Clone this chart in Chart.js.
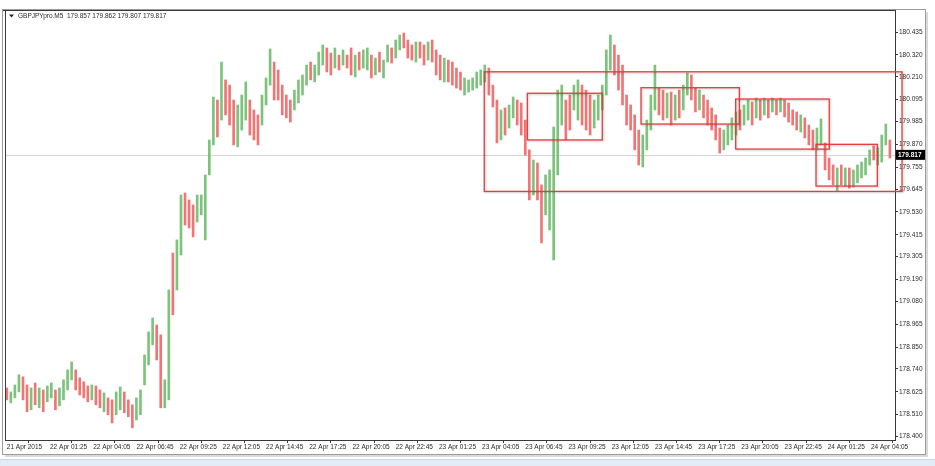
<!DOCTYPE html>
<html>
<head>
<meta charset="utf-8">
<title>GBPJPYpro M5</title>
<script src="https://cdn.jsdelivr.net/npm/chart.js@4.4.0/dist/chart.umd.min.js"></script>
<style>
  html, body { margin: 0; padding: 0; background: #fff; }
  #wrap { position: relative; width: 935px; height: 466px; }
</style>
</head>
<body>
<div id="wrap"><canvas id="chart" width="935" height="466"></canvas></div>
<script>
// header line of the MT4 window
const symbolTitle = 'GBPJPYpro.M5  179.857 179.862 179.807 179.817';
const lastPrice = 179.817;

// x axis: M5 bar index of each time label
const xTickIdx = [0, 32, 64, 96, 128, 160, 192, 224, 256, 288, 320, 352, 384, 416, 448, 480, 512, 544, 576, 608, 640];
const xTickLabels = ['21 Apr 2015', '22 Apr 01:25', '22 Apr 04:05', '22 Apr 06:45', '22 Apr 09:25', '22 Apr 12:05',
  '22 Apr 14:45', '22 Apr 17:25', '22 Apr 20:05', '22 Apr 22:45', '23 Apr 01:25', '23 Apr 04:05', '23 Apr 06:45',
  '23 Apr 09:25', '23 Apr 12:05', '23 Apr 14:45', '23 Apr 17:25', '23 Apr 20:05', '23 Apr 22:45', '24 Apr 01:25', '24 Apr 04:05'];

// y axis price labels
const yTickLabels = [180.435, 180.320, 180.210, 180.095, 179.985, 179.870, 179.755, 179.645, 179.530, 179.415,
  179.305, 179.190, 179.080, 178.965, 178.850, 178.740, 178.625, 178.510, 178.400];

// price bars (one every 3 M5 bars), high / low / up-or-down
const highs = [
  178.644,178.624,178.659,178.710,178.700,178.659,178.644,178.669,178.644,178.634,
  178.654,178.669,178.634,178.644,178.685,178.735,178.775,178.735,178.695,178.675,
  178.654,178.659,178.654,178.634,178.619,178.594,178.584,178.624,178.649,178.624,
  178.584,178.559,178.594,178.634,178.810,178.926,178.996,178.961,178.911,178.685,
  179.137,179.323,179.389,179.615,179.625,179.590,179.565,179.615,179.615,179.716,
  179.892,180.108,180.093,180.284,180.194,180.168,180.093,180.068,180.118,180.184,
  180.093,180.043,180.018,180.118,180.204,180.350,180.284,180.244,180.168,180.118,
  180.093,180.143,180.194,180.219,180.269,180.284,180.269,180.334,180.370,180.355,
  180.329,180.355,180.319,180.345,180.319,180.355,180.319,180.334,180.345,180.355,
  180.319,180.304,180.334,180.294,180.370,180.355,180.395,180.420,180.430,180.395,
  180.370,180.385,180.385,180.370,180.385,180.395,180.345,180.319,180.304,180.294,
  180.284,180.254,180.234,180.204,180.194,180.204,180.234,180.244,180.269,180.254,
  180.168,180.093,180.043,180.053,180.068,180.108,180.093,180.078,179.992,179.842,
  179.791,179.776,179.666,179.716,179.741,179.957,180.143,180.168,180.093,180.118,
  180.168,180.194,180.168,180.143,180.118,180.093,180.118,180.168,180.345,180.420,
  180.370,180.319,180.269,180.118,180.068,180.018,179.942,179.917,179.992,180.118,
  180.269,180.153,180.143,180.128,180.133,180.118,180.143,180.168,180.229,180.219,
  180.153,180.143,180.118,180.093,180.053,180.018,179.952,179.942,179.967,180.003,
  180.033,180.043,180.068,180.093,180.083,180.103,180.093,180.103,180.093,180.103,
  180.093,180.103,180.093,180.078,180.043,180.033,180.018,180.003,179.967,179.942,
  179.952,179.998,179.877,179.801,179.766,179.751,179.766,179.751,179.751,179.741,
  179.766,179.781,179.801,179.842,179.862,179.852,179.917,179.972,179.892
];
const lows = [
  178.584,178.569,178.594,178.624,178.584,178.524,178.534,178.559,178.544,178.524,
  178.574,178.594,178.534,178.554,178.584,178.634,178.685,178.634,178.609,178.594,
  178.574,178.584,178.559,178.544,178.524,178.509,178.468,178.509,178.534,178.519,
  178.499,178.443,178.483,178.509,178.659,178.760,178.861,178.785,178.544,178.544,
  178.584,179.012,179.137,179.313,179.464,179.449,179.404,179.479,179.515,179.389,
  179.716,179.867,179.907,179.992,180.018,179.967,179.867,179.857,179.942,179.992,
  179.917,179.892,179.867,179.967,180.068,180.168,180.093,180.093,180.018,180.003,
  179.982,180.043,180.078,180.118,180.168,180.194,180.184,180.219,180.269,180.234,
  180.219,180.254,180.244,180.269,180.254,180.219,180.209,180.244,180.254,180.244,
  180.204,180.219,180.234,180.204,180.284,180.279,180.304,180.345,180.355,180.304,
  180.294,180.284,180.304,180.269,180.294,180.284,180.219,180.194,180.184,180.184,
  180.168,180.153,180.143,180.118,180.133,180.143,180.153,180.168,180.184,180.118,
  180.058,179.877,179.892,179.917,179.952,180.003,179.967,179.917,179.816,179.590,
  179.615,179.590,179.374,179.515,179.439,179.288,179.716,179.967,179.892,179.942,
  180.043,179.992,179.967,179.942,179.917,179.952,179.992,180.043,180.118,180.244,
  180.219,180.143,180.068,179.967,179.942,179.842,179.766,179.756,179.842,179.942,
  180.043,180.018,179.992,180.003,179.967,179.992,180.003,180.043,180.118,180.093,
  180.033,180.043,180.003,179.967,179.942,179.892,179.826,179.842,179.867,179.892,
  179.917,179.942,179.967,179.992,179.967,180.003,179.992,180.018,180.003,180.033,
  180.018,180.033,180.008,179.982,179.967,179.942,179.932,179.902,179.867,179.842,
  179.852,179.867,179.741,179.691,179.666,179.635,179.666,179.660,179.650,179.655,
  179.676,179.701,179.716,179.766,179.791,179.766,179.781,179.867,179.801
];
const ups = [
  0,1,1,1,0,0,1,0,1,0, 1,1,0,1,1,1,1,0,0,0, 0,1,0,0,1,0,0,1,1,0, 0,0,1,1,1,1,1,0,0,1,
  1,0,1,1,0,0,0,1,1,1, 1,1,0,1,0,0,0,1,1,1, 0,0,0,1,1,1,0,0,0,0, 0,1,1,1,1,0,1,1,1,0,
  0,1,0,1,0,0,1,0,1,1, 0,1,0,1,1,0,1,1,0,0, 0,1,0,0,1,0,0,0,1,0, 0,0,0,1,1,1,1,1,1,0,
  0,0,1,0,1,1,0,0,0,0, 1,0,0,1,1,1,1,1,0,0, 1,1,0,0,0,1,1,1,1,1, 0,0,0,0,0,0,0,1,1,1,
  1,0,0,1,0,1,0,1,1,0, 0,1,0,0,0,0,0,1,1,1, 1,0,1,1,0,1,0,1,0,1, 0,1,0,0,0,0,1,0,0,0,
  1,1,0,0,0,1,0,1,0,1, 1,1,1,1,0,1,1,1,0
];
const barStep = 3;

// drawn rectangles (M5 index / price)
const boxStart = [353.6, 385.5, 469.7, 539.8, 599.3];
const boxEnd = [663.0, 441.0, 542.5, 609.1, 644.7];
const boxTop = [180.235, 180.127, 180.155, 180.098, 179.870];
const boxBottom = [179.633, 179.892, 179.972, 179.846, 179.660];

const GREEN = '#7cc37c';
const RED = '#f37474';
const FONT = 'Liberation Sans, Arial, sans-serif';
const TXT = '#2a2a2a';

const mt4Chrome = {
    id: 'mt4Chrome',
    beforeDraw(chart) {
        const c = chart.ctx;
        c.save();
        c.fillStyle = '#fff';
        c.fillRect(0, 0, chart.width, chart.height);
        // strip at the bottom of the window
        c.fillStyle = '#c9d8e8';
        c.fillRect(0, 459, chart.width, 1);
        c.fillStyle = '#e3ecf6';
        c.fillRect(0, 460, chart.width, 6);
        // window shadow + border
        c.fillStyle = '#dadada';
        c.fillRect(926, 12, 2, 445);
        c.fillRect(5, 455, 923, 2);
        c.strokeStyle = '#9c9c9c';
        c.lineWidth = 1;
        c.strokeRect(2.5, 9.5, 923, 445);
        c.restore();
    },
    beforeDatasetsDraw(chart) {
        const c = chart.ctx, a = chart.chartArea;
        const y = Math.round(chart.scales.y.getPixelForValue(lastPrice)) + 0.5;
        c.save();
        c.strokeStyle = '#d4d4d4';
        c.lineWidth = 1;
        c.beginPath();
        c.moveTo(a.left, y);
        c.lineTo(a.right, y);
        c.stroke();
        c.restore();
    },
    afterDatasetsDraw(chart) {
        const c = chart.ctx, xs = chart.scales.x, ys = chart.scales.y;
        c.save();
        c.shadowColor = 'rgba(0,0,0,0.22)';
        c.shadowBlur = 2;
        c.shadowOffsetX = 1;
        c.shadowOffsetY = 1;
        c.strokeStyle = '#e43c3c';
        c.lineWidth = 1.3;
        boxStart.forEach((s, i) => {
            const x0 = xs.getPixelForValue(s), x1 = xs.getPixelForValue(boxEnd[i]);
            const y0 = ys.getPixelForValue(boxTop[i]), y1 = ys.getPixelForValue(boxBottom[i]);
            c.strokeRect(x0, y0, x1 - x0, y1 - y0);
        });
        c.restore();
    },
    afterDraw(chart) {
        const c = chart.ctx, a = chart.chartArea, ys = chart.scales.y;
        c.save();
        // frame of the price window
        c.strokeStyle = '#3a3a3a';
        c.lineWidth = 1;
        c.beginPath();
        c.moveTo(3, 10.5); c.lineTo(a.right, 10.5);
        c.moveTo(5.5, 10); c.lineTo(5.5, a.bottom);
        c.stroke();
        // symbol header
        c.fillStyle = '#222';
        c.beginPath();
        c.moveTo(9, 14.5); c.lineTo(14, 14.5); c.lineTo(11.5, 17.5); c.closePath();
        c.fill();
        c.font = '6.5px ' + FONT;
        c.fillStyle = TXT;
        c.textBaseline = 'middle';
        c.fillText(symbolTitle, 18, 16.5);
        // current price tag
        const y = ys.getPixelForValue(lastPrice);
        c.fillStyle = '#000';
        c.fillRect(a.right + 1, y - 5, 29, 10);
        c.fillStyle = '#fff';
        c.font = 'bold 6.5px ' + FONT;
        c.fillText(lastPrice.toFixed(3), a.right + 3, y + 0.5);
        c.restore();
    }
};

const ctx = document.getElementById('chart');
new Chart(ctx, {
    type: 'bar',
    data: {
        datasets: [{
            data: highs.map((h, i) => ({ x: i * barStep, y: [lows[i], h] })),
            backgroundColor: ups.map(u => u ? GREEN : RED),
            borderWidth: 0,
            barThickness: 2,
            grouped: false
        }]
    },
    options: {
        responsive: false,
        animation: false,
        events: [],
        devicePixelRatio: 1,
        layout: { padding: { left: 5, top: 10, right: 0, bottom: 0 } },
        plugins: { legend: { display: false }, tooltip: { enabled: false } },
        scales: {
            x: {
                type: 'linear',
                min: -1.33,
                max: 657.8,
                offset: false,
                grid: { display: true, drawOnChartArea: false, tickLength: 3, color: '#3a3a3a' },
                border: { display: true, color: '#3a3a3a' },
                ticks: {
                    autoSkip: false, maxRotation: 0, align: 'start', padding: 0,
                    color: TXT, font: { family: FONT, size: 6.5 },
                    callback: v => xTickLabels[xTickIdx.indexOf(v)] || ''
                },
                afterBuildTicks: s => { s.ticks = xTickIdx.map(v => ({ value: v })); },
                afterFit: s => { s.height = 26; }
            },
            y: {
                position: 'right',
                min: 178.382,
                max: 180.546,
                grid: { display: true, drawOnChartArea: false, tickLength: 3, color: '#3a3a3a' },
                border: { display: true, color: '#3a3a3a' },
                ticks: {
                    autoSkip: false, crossAlign: 'near', padding: 1,
                    color: TXT, font: { family: FONT, size: 6.5 },
                    callback: v => v.toFixed(3)
                },
                afterBuildTicks: s => { s.ticks = yTickLabels.map(v => ({ value: v })); },
                afterFit: s => { s.width = 40; }
            }
        }
    },
    plugins: [mt4Chrome]
});
</script>
</body>
</html>
